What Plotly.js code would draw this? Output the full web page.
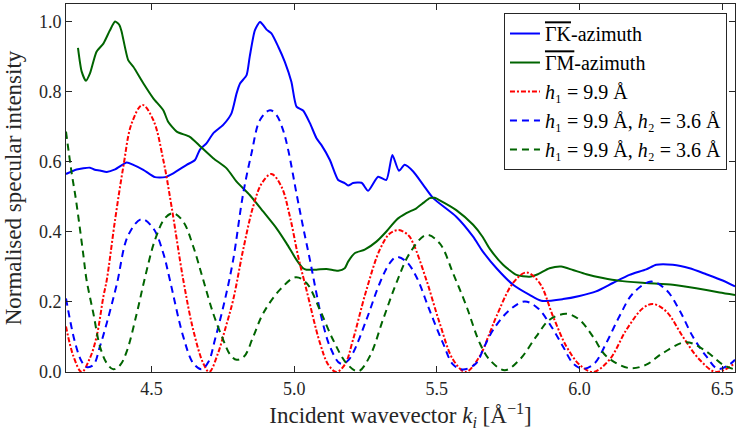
<!DOCTYPE html>
<html>
<head>
<meta charset="utf-8">
<script src="https://cdn.plot.ly/plotly-3.0.1.min.js"></script>
<style>
html,body{margin:0;padding:0;background:#fff;}
#chart text, #chart tspan { font-family: "Liberation Serif", serif !important; }
</style>
</head>
<body>
<div id="chart" style="width:736px;height:436px;"></div>
<script>
// ΓK-azimuth (measured)
const gkK = [4.2,4.237,4.284,4.301,4.319,4.343,4.372,4.413,4.436,4.471,4.512,4.547,4.576,4.623,4.652,4.669,4.693,4.716,4.751,4.78,4.798,4.81,4.833,4.844,4.862,4.88,4.891,4.903,4.92,4.944,4.967,4.99,5.008,5.031,5.055,5.078,5.095,5.125,5.154,5.177,5.189,5.206,5.236,5.259,5.294,5.323,5.344,5.367,5.387,5.417,5.452,5.487,5.568,5.627,5.66,5.709,5.767,5.825,5.866,5.942,6.0,6.058,6.117,6.175,6.234,6.269,6.327,6.386,6.444,6.502,6.545];
const gkI = [0.565,0.578,0.583,0.577,0.575,0.571,0.578,0.598,0.591,0.577,0.556,0.556,0.567,0.591,0.605,0.634,0.653,0.681,0.705,0.738,0.795,0.823,0.847,0.9,0.975,0.999,0.99,0.977,0.966,0.928,0.885,0.828,0.757,0.746,0.71,0.667,0.648,0.605,0.548,0.539,0.532,0.539,0.54,0.517,0.557,0.548,0.619,0.574,0.591,0.572,0.534,0.496,0.443,0.386,0.345,0.296,0.249,0.22,0.203,0.208,0.217,0.23,0.254,0.277,0.293,0.306,0.306,0.296,0.279,0.261,0.244];

// ΓM-azimuth (measured)
const gmK = [4.242,4.255,4.27,4.284,4.307,4.331,4.354,4.372,4.387,4.395,4.418,4.436,4.471,4.506,4.541,4.558,4.588,4.634,4.669,4.716,4.763,4.798,4.844,4.891,4.938,4.973,5.008,5.031,5.043,5.078,5.113,5.154,5.177,5.189,5.212,5.247,5.288,5.323,5.358,5.393,5.428,5.455,5.475,5.492,5.51,5.568,5.627,5.66,5.685,5.732,5.779,5.825,5.854,5.895,5.936,5.977,6.024,6.082,6.14,6.234,6.327,6.409,6.491,6.545];
const gmI = [0.925,0.857,0.831,0.852,0.914,0.937,0.975,1.0,0.99,0.971,0.89,0.871,0.824,0.781,0.747,0.714,0.686,0.671,0.645,0.61,0.581,0.543,0.505,0.458,0.41,0.367,0.32,0.296,0.292,0.292,0.294,0.289,0.296,0.315,0.339,0.349,0.372,0.401,0.434,0.453,0.467,0.484,0.496,0.497,0.49,0.462,0.42,0.386,0.352,0.306,0.277,0.272,0.279,0.296,0.301,0.291,0.279,0.268,0.26,0.254,0.249,0.239,0.227,0.22];

// Model h1 = 9.9 Å
const m1K = [4.2,4.226,4.255,4.284,4.307,4.331,4.343,4.372,4.401,4.43,4.468,4.506,4.541,4.57,4.611,4.646,4.681,4.702,4.733,4.757,4.786,4.821,4.856,4.886,4.92,4.955,4.985,5.014,5.043,5.09,5.12,5.148,5.178,5.206,5.253,5.3,5.335,5.367,5.4,5.417,5.463,5.51,5.557,5.601,5.65,5.685,5.709,5.767,5.814,5.86,5.907,5.954,6.0,6.047,6.105,6.164,6.222,6.257,6.304,6.362,6.421,6.479,6.545];
const m1I = [0.13,0.045,0.0,0.04,0.1,0.215,0.263,0.434,0.586,0.709,0.762,0.719,0.605,0.472,0.263,0.12,0.025,0.0,0.054,0.12,0.206,0.349,0.472,0.538,0.565,0.529,0.443,0.329,0.234,0.083,0.02,0.0,0.022,0.092,0.234,0.349,0.395,0.405,0.39,0.367,0.263,0.139,0.035,0.0,0.045,0.111,0.159,0.254,0.284,0.254,0.159,0.073,0.021,0.0,0.035,0.12,0.182,0.194,0.173,0.101,0.035,0.0,0.025];

// Model h1 = 9.9 Å, h2 = 3.6 Å (blue)
const m2K = [4.2,4.232,4.255,4.272,4.296,4.319,4.343,4.378,4.418,4.465,4.506,4.541,4.564,4.611,4.646,4.675,4.7,4.722,4.757,4.786,4.821,4.85,4.88,4.915,4.938,4.961,4.979,5.008,5.031,5.055,5.078,5.1,5.125,5.16,5.185,5.206,5.253,5.3,5.335,5.358,5.393,5.428,5.474,5.521,5.557,5.592,5.638,5.665,5.697,5.755,5.808,5.854,5.901,5.942,5.977,6.012,6.053,6.094,6.14,6.187,6.251,6.304,6.35,6.397,6.444,6.485,6.525,6.545];
const m2I = [0.21,0.083,0.03,0.014,0.02,0.073,0.14,0.25,0.39,0.436,0.41,0.339,0.263,0.101,0.025,0.008,0.03,0.092,0.206,0.32,0.509,0.623,0.719,0.747,0.733,0.69,0.633,0.509,0.414,0.32,0.224,0.14,0.073,0.025,0.03,0.054,0.149,0.254,0.311,0.328,0.315,0.272,0.177,0.083,0.021,0.007,0.025,0.07,0.12,0.177,0.201,0.182,0.13,0.073,0.025,0.009,0.025,0.083,0.159,0.224,0.258,0.234,0.177,0.101,0.045,0.009,0.021,0.035];

// Model h1 = 9.9 Å, h2 = 3.6 Å (green)
const m3K = [4.2,4.22,4.235,4.26,4.272,4.296,4.319,4.343,4.366,4.39,4.413,4.448,4.477,4.512,4.547,4.576,4.611,4.646,4.681,4.716,4.751,4.775,4.798,4.825,4.856,4.891,4.95,5.005,5.043,5.09,5.136,5.183,5.224,5.265,5.311,5.358,5.405,5.463,5.51,5.557,5.604,5.65,5.685,5.738,5.79,5.848,5.895,5.954,6.0,6.047,6.094,6.175,6.234,6.292,6.374,6.444,6.502,6.545];
const m3I = [0.686,0.567,0.491,0.339,0.263,0.167,0.073,0.025,0.008,0.02,0.059,0.167,0.27,0.377,0.439,0.453,0.429,0.358,0.263,0.167,0.092,0.05,0.035,0.045,0.1,0.167,0.235,0.27,0.254,0.177,0.092,0.025,0.002,0.045,0.149,0.254,0.339,0.391,0.367,0.281,0.187,0.083,0.035,0.005,0.035,0.101,0.149,0.166,0.149,0.101,0.045,0.011,0.021,0.054,0.085,0.059,0.021,0.007];

const xTicks = [4.5, 5.0, 5.5, 6.0, 6.5];
const yTicks = [0.0, 0.2, 0.4, 0.6, 0.8, 1.0];

const names = [
  '<span style="text-decoration:overline">ΓK</span>-azimuth',
  '<span style="text-decoration:overline">ΓM</span>-azimuth',
  '<i>h</i>₁ = 9.9 Å',
  '<i>h</i>₁ = 9.9 Å, <i>h</i>₂ = 3.6 Å',
  '<i>h</i>₁ = 9.9 Å, <i>h</i>₂ = 3.6 Å'
];

const FONT = 'Liberation Serif';
const AX = '#262626';

const traces = [
  {x: gkK, y: gkI, name: names[0], mode: 'lines', line: {color: '#0000ff', width: 2, shape: 'spline', smoothing: 0.6}},
  {x: gmK, y: gmI, name: names[1], mode: 'lines', line: {color: '#006400', width: 2, shape: 'spline', smoothing: 0.6}},
  {x: m1K, y: m1I, name: names[2], mode: 'lines', line: {color: '#ff0000', width: 2, dash: '5px,2px,2px,2px', shape: 'spline', smoothing: 1}},
  {x: m2K, y: m2I, name: names[3], mode: 'lines', line: {color: '#0000ff', width: 2, dash: '7px,5px', shape: 'spline', smoothing: 1}},
  {x: m3K, y: m3I, name: names[4], mode: 'lines', line: {color: '#006400', width: 2, dash: '7px,5px', shape: 'spline', smoothing: 1}}
];

const axisCommon = {
  showline: true, linecolor: AX, linewidth: 1, mirror: 'ticks',
  ticks: 'inside', ticklen: 6, tickwidth: 1, tickcolor: AX,
  showgrid: false, zeroline: false,
  tickfont: {family: FONT, size: 18, color: AX},
  tickformat: '.1f'
};

const layout = {
  width: 736, height: 436,
  margin: {l: 66, r: 1, t: 4, b: 64},
  paper_bgcolor: '#ffffff', plot_bgcolor: '#ffffff',
  font: {family: FONT, color: AX},
  showlegend: true,
  xaxis: Object.assign({}, axisCommon, {
    range: [4.2, 6.545], tickvals: xTicks,
    title: {text: 'Incident wavevector <i>k<sub>i</sub></i> [Å<sup>−1</sup>]', font: {family: FONT, size: 23, color: AX}, standoff: 9}
  }),
  yaxis: Object.assign({}, axisCommon, {
    range: [0, 1.05], tickvals: yTicks,
    title: {text: 'Normalised specular intensity', font: {family: FONT, size: 23, color: AX}, standoff: 10}
  }),
  legend: {
    x: 0.988, xanchor: 'right', y: 0.9755, yanchor: 'top',
    bgcolor: '#ffffff', bordercolor: AX, borderwidth: 1,
    font: {family: FONT, size: 20, color: '#000000'},
    tracegroupgap: 0
  }
};

Plotly.newPlot('chart', traces, layout, {staticPlot: true, displayModeBar: false});
</script>
</body>
</html>
